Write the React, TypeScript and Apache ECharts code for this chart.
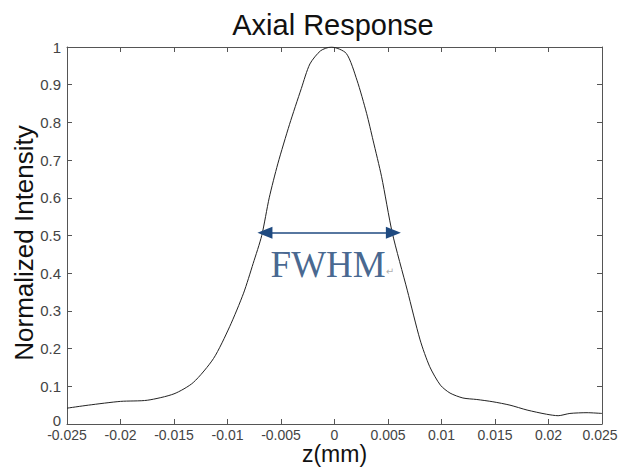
import React, { useEffect, useRef } from "react";
import * as echarts from "echarts";

const zValues = [
  -0.025, -0.023, -0.02, -0.0175, -0.015, -0.0132, -0.0113, -0.0098, -0.0085, -0.0076,
  -0.0068, -0.0061, -0.0053, -0.0042, -0.0031, -0.0023, -0.0013, -0.0003, 0.0011, 0.0021,
  0.003, 0.0036, 0.0044, 0.0054, 0.0068, 0.008, 0.0089, 0.0099, 0.0108, 0.012,
  0.0133, 0.0148, 0.0164, 0.018, 0.0198, 0.0209, 0.022, 0.0236, 0.025,
];
const intensity = [
  0.042, 0.05, 0.06, 0.063, 0.08, 0.11, 0.174, 0.258, 0.347, 0.426,
  0.5, 0.6, 0.69, 0.795, 0.89, 0.955, 0.99, 1.0, 0.983, 0.912,
  0.824, 0.753, 0.656, 0.507, 0.355, 0.223, 0.152, 0.103, 0.082, 0.069,
  0.065, 0.059, 0.05, 0.037, 0.026, 0.022, 0.028, 0.03, 0.028,
];
const zMin = -0.025;
const zMax = 0.025;
const fwhmLeft = -0.0065;
const fwhmRight = 0.0055;
const fwhmLevel = 0.507;
const fwhmLabelPos = [-0.0002, 0.423];
const fwhmLabel = "FWHM";

const axisColor = "#555";
const labelColor = "#444";

export default function App() {
  const ref = useRef<HTMLDivElement>(null);
  useEffect(() => {
    if (!ref.current) return;
    const chart = echarts.init(ref.current, undefined, { renderer: "svg" });
    const fmt = (v: number) => String(+v.toFixed(3));
    const xFmt = (v: number) => (Math.abs(v - zMax) < 1e-9 ? "{m|" + fmt(v) + "}" : fmt(v));
    const yFmt = (v: number) => (Math.abs(v) < 1e-9 ? "{z|" + fmt(v) + "}" : fmt(v));
    const baseTick = { show: true, inside: true, length: 5, lineStyle: { color: axisColor } };
    const baseLine = { show: true, onZero: false, lineStyle: { color: axisColor } };
    chart.setOption({
      animation: false,
      backgroundColor: "#fff",
      title: {
        text: "Axial Response",
        left: 328,
        textAlign: "center",
        top: 5,
        textStyle: { fontFamily: "Liberation Sans", fontSize: 29, fontWeight: "normal", color: "#111" },
      },
      grid: { left: 67, right: 17, top: 47, bottom: 50, containLabel: false, outerBoundsMode: "none" },
      xAxis: [
        {
          type: "value",
          min: zMin,
          max: zMax,
          interval: 0.005,
          position: "bottom",
          name: "z(mm)",
          nameLocation: "middle",
          nameGap: 22,
          nameMoveOverlap: false,
          nameTextStyle: { fontFamily: "Liberation Sans", fontSize: 23, lineHeight: 16, color: "#111" },
          axisLine: baseLine,
          axisTick: baseTick,
          splitLine: { show: false },
          axisLabel: {
            formatter: xFmt,
            color: labelColor,
            fontFamily: "Liberation Sans",
            fontSize: 14,
            lineHeight: 11,
            margin: 5,
            rich: { m: { fontFamily: "Liberation Sans", fontSize: 14, lineHeight: 11, color: labelColor, padding: [0, 4, 0, 0] } },
          },
        },
        {
          type: "value",
          min: zMin,
          max: zMax,
          interval: 0.005,
          position: "top",
          axisLine: baseLine,
          axisTick: baseTick,
          splitLine: { show: false },
          axisLabel: { show: false },
        },
      ],
      yAxis: [
        {
          type: "value",
          min: 0,
          max: 1,
          interval: 0.1,
          position: "left",
          name: "Normalized Intensity",
          nameLocation: "middle",
          nameGap: 33,
          nameMoveOverlap: false,
          nameTextStyle: {
            fontFamily: "Liberation Sans",
            fontSize: 26,
            lineHeight: 20,
            color: "#111",
            padding: [0, 15, 0, 0],
          },
          axisLine: baseLine,
          axisTick: baseTick,
          splitLine: { show: false },
          axisLabel: {
            formatter: yFmt,
            color: labelColor,
            fontFamily: "Liberation Sans",
            fontSize: 15,
            lineHeight: 12,
            margin: 6,
            rich: { z: { fontFamily: "Liberation Sans", fontSize: 15, lineHeight: 12, color: labelColor, padding: [0, 0, 8, 0] } },
          },
        },
        {
          type: "value",
          min: 0,
          max: 1,
          interval: 0.1,
          position: "right",
          axisLine: baseLine,
          axisTick: baseTick,
          splitLine: { show: false },
          axisLabel: { show: false },
        },
      ],
      series: [
        {
          type: "line",
          data: zValues.map((z, i) => [z, intensity[i]]),
          smooth: 0.25,
          symbol: "none",
          lineStyle: { color: "#222", width: 1 },
          markLine: {
            silent: true,
            symbol: ["triangle", "triangle"],
            symbolSize: [12, 15],
            label: { show: false },
            lineStyle: { color: "#1f4a80", width: 1.5, type: "solid" },
            data: [[{ coord: [fwhmLeft, fwhmLevel] }, { coord: [fwhmRight, fwhmLevel] }]],
          },
        },
        {
          type: "scatter",
          data: [fwhmLabelPos],
          symbolSize: 0,
          label: {
            show: true,
            position: "inside",
            formatter: fwhmLabel + "{r|↵}",
            fontFamily: "Liberation Serif",
            fontSize: 37,
            color: "#173f73",
            rich: {
              r: { fontSize: 10, color: "#999", fontFamily: "DejaVu Sans", padding: [14, 0, 0, 0] },
            },
          },
        },
      ],
    });
    return () => chart.dispose();
  }, []);
  return <div ref={ref} style={{ width: 619, height: 474, position: "absolute", left: 0, top: 0 }} />;
}
